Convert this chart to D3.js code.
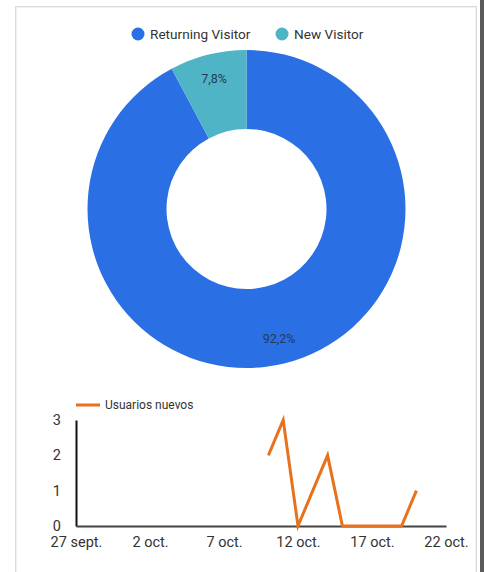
<!DOCTYPE html>
<html>
<head>
<meta charset="utf-8">
<script src="https://cdn.jsdelivr.net/npm/d3@7"></script>
<style>
  html, body { margin: 0; padding: 0; background: #fff; }
  svg { display: block; font-family: Roboto, "Noto Sans", sans-serif; }
</style>
</head>
<body>
<svg id="chart" width="484" height="572"></svg>
<script>
// ---- data ----
const pieCategories = ["Returning Visitor", "New Visitor"];
const pieValues = [92.2, 7.8];
const pieLabels = ["92,2%", "7,8%"];
const pieColors = ["#2b6fe4", "#4fb5c6"];

const lineSeriesName = "Usuarios nuevos";
const lineDates = ["2023-10-10","2023-10-11","2023-10-12","2023-10-13","2023-10-14","2023-10-15","2023-10-16","2023-10-17","2023-10-18","2023-10-19","2023-10-20"];
const lineValues = [2, 3, 0, 1, 2, 0, 0, 0, 0, 0, 1];
const xTickDates = ["2023-09-27","2023-10-02","2023-10-07","2023-10-12","2023-10-17","2023-10-22"];
const xTickLabels = ["27 sept.", "2 oct.", "7 oct.", "12 oct.", "17 oct.", "22 oct."];
const yTicks = [0, 1, 2, 3];

const svg = d3.select("#chart");

// frame
svg.append("rect").attr("x", 15.5).attr("y", 6.5).attr("width", 461).attr("height", 600)
  .attr("fill", "#fff").attr("stroke", "#dcdcdc").attr("stroke-width", 1);
svg.append("rect").attr("x", 16.5).attr("y", 7.5).attr("width", 459).attr("height", 600)
  .attr("fill", "none").attr("stroke", "#f0f0f0").attr("stroke-width", 1);
svg.append("rect").attr("x", 480).attr("y", 0).attr("width", 4).attr("height", 572).attr("fill", "#5a5a5a");

// ---- legend (pie) ----
const legend = svg.append("g");
const legendX = [138, 282];
pieCategories.forEach((c, i) => {
  legend.append("circle").attr("cx", legendX[i]).attr("cy", 34).attr("r", 6.5).attr("fill", pieColors[i]);
  legend.append("text").attr("x", legendX[i] + 12).attr("y", 39).attr("font-size", 13.6)
    .attr("fill", "#333").text(c);
});

// ---- donut ----
const cx = 246.5, cy = 209, outerR = 159, innerR = 80, labelR = 134;
const pie = d3.pie().sort(null).value(d => d);
const arc = d3.arc().innerRadius(innerR).outerRadius(outerR);
const labelArc = d3.arc().innerRadius(labelR).outerRadius(labelR);
const g = svg.append("g").attr("transform", `translate(${cx},${cy})`);
const arcs = pie(pieValues);
g.selectAll("path").data(arcs).join("path")
  .attr("d", arc).attr("fill", (d, i) => pieColors[i]);
g.selectAll("text").data(arcs).join("text")
  .attr("transform", d => `translate(${labelArc.centroid(d)})`)
  .attr("text-anchor", "middle").attr("dy", "0.35em")
  .attr("font-size", 12.5).attr("fill", "#263a55")
  .text((d, i) => pieLabels[i]);

// ---- line chart ----
const parse = d3.timeParse("%Y-%m-%d");
const x = d3.scaleTime()
  .domain([parse("2023-09-27"), parse("2023-10-22")])
  .range([76, 446]);
const y = d3.scaleLinear().domain([0, 3]).range([526, 420]);

// legend
svg.append("line").attr("x1", 76).attr("x2", 100).attr("y1", 405).attr("y2", 405)
  .attr("stroke", "#e8711c").attr("stroke-width", 3);
svg.append("text").attr("x", 105).attr("y", 409).attr("font-size", 12).attr("fill", "#333")
  .text(lineSeriesName);

// y axis
const yAxis = d3.axisLeft(y).tickValues(yTicks).tickFormat(d3.format("d")).tickSize(0).tickPadding(15);
const yg = svg.append("g").attr("transform", "translate(76,0)").call(yAxis);
yg.select(".domain").attr("stroke", "#111").attr("stroke-width", 2);
yg.selectAll("text").attr("font-size", 14.5).attr("fill", "#333").attr("font-family", "Roboto, sans-serif");

// x axis
const xAxis = d3.axisBottom(x).tickValues(xTickDates.map(parse))
  .tickFormat((d, i) => xTickLabels[i]).tickSize(0).tickPadding(11);
const xg = svg.append("g").attr("transform", "translate(0,526)").call(xAxis);
xg.select(".domain").attr("stroke", "#444").attr("stroke-width", 2);
xg.selectAll("text").attr("font-size", 14.5).attr("fill", "#333").attr("font-family", "Roboto, sans-serif");

// line
const pts = lineDates.map((d, i) => ({ date: parse(d), v: lineValues[i] }));
svg.append("path").datum(pts)
  .attr("fill", "none").attr("stroke", "#e8711c").attr("stroke-width", 3)
  .attr("stroke-linejoin", "miter")
  .attr("d", d3.line().x(d => x(d.date)).y(d => y(d.v)));
</script>
</body>
</html>
